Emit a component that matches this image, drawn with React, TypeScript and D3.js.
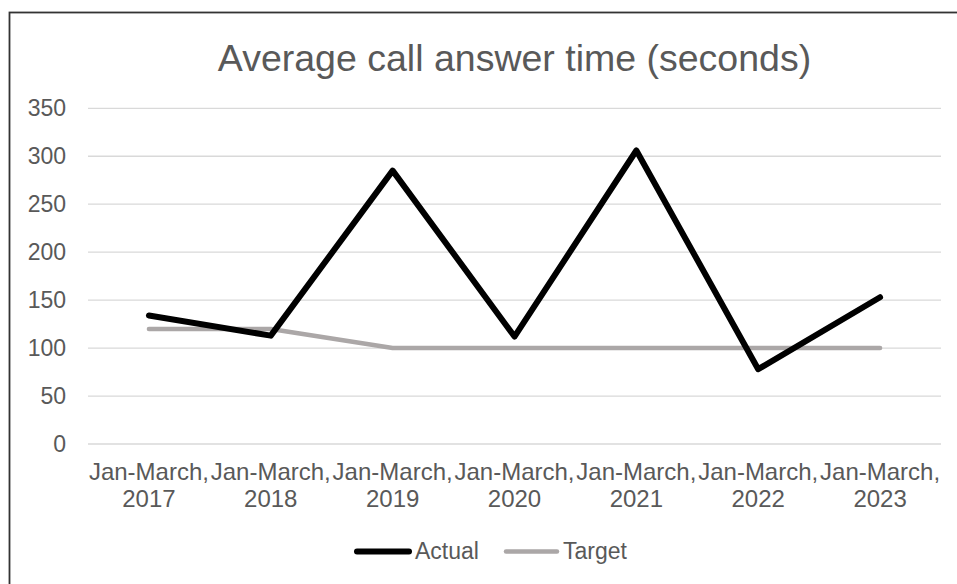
import React from "react";
import * as d3 from "d3";

const categories = [
  "Jan-March, 2017",
  "Jan-March, 2018",
  "Jan-March, 2019",
  "Jan-March, 2020",
  "Jan-March, 2021",
  "Jan-March, 2022",
  "Jan-March, 2023",
];
const actualValues = [134, 113, 285, 112, 306, 78, 153];
const targetValues = [120, 120, 100, 100, 100, 100, 100];
const yTicks = [0, 50, 100, 150, 200, 250, 300, 350];
const seriesNames = ["Actual", "Target"];

const W = 957;
const H = 584;
const FONT = "'Liberation Sans', Arial, sans-serif";
const TEXT = "#595959";

export default function App() {
  const left = 88;
  const right = 941;
  const top = 108.3;
  const bottom = 444;

  const x = d3.scaleBand<string>().domain(categories).range([left, right]).padding(0);
  const y = d3.scaleLinear().domain([0, 350]).range([bottom, top]);
  const cx = (c: string) => (x(c) ?? 0) + x.bandwidth() / 2;

  const line = d3
    .line<number>()
    .x((_, i) => cx(categories[i]))
    .y((d) => y(d));

  return (
    <svg
      width={W}
      height={H}
      style={{ position: "absolute", left: 0, top: 0, display: "block", background: "#fff" }}
      fontFamily={FONT}
    >
      <rect x={9.5} y={12.5} width={W + 20} height={H + 20} fill="#fff" stroke="#333" strokeWidth={1.8} />
      <text x={(left + right) / 2} y={71} textAnchor="middle" fontSize={37.5} fill={TEXT}>
        Average call answer time (seconds)
      </text>
      {yTicks.map((t) => (
        <g key={t}>
          <line x1={left} x2={right} y1={y(t)} y2={y(t)} stroke="#d9d9d9" strokeWidth={1.3} />
          <text x={66} y={y(t)} dy="0.35em" textAnchor="end" fontSize={23} fill={TEXT}>
            {t}
          </text>
        </g>
      ))}
      {categories.map((c) => {
        const [a, b] = c.split(" ");
        return (
          <text key={c} x={cx(c)} textAnchor="middle" fontSize={24} fill={TEXT}>
            <tspan x={cx(c)} y={480}>{a}</tspan>
            <tspan x={cx(c)} y={507}>{b}</tspan>
          </text>
        );
      })}
      <path d={line(targetValues) ?? ""} fill="none" stroke="#aba7a7" strokeWidth={4.5} strokeLinecap="round" strokeLinejoin="round" />
      <path d={line(actualValues) ?? ""} fill="none" stroke="#000" strokeWidth={6} strokeLinecap="round" strokeLinejoin="round" />
      <g>
        <line x1={357} x2={409} y1={551.5} y2={551.5} stroke="#000" strokeWidth={6} strokeLinecap="round" />
        <text x={415} y={559} fontSize={23} fill={TEXT}>{seriesNames[0]}</text>
        <line x1={506} x2={557} y1={551.5} y2={551.5} stroke="#aba7a7" strokeWidth={4.5} strokeLinecap="round" />
        <text x={563} y={559} fontSize={23} fill={TEXT}>{seriesNames[1]}</text>
      </g>
    </svg>
  );
}
